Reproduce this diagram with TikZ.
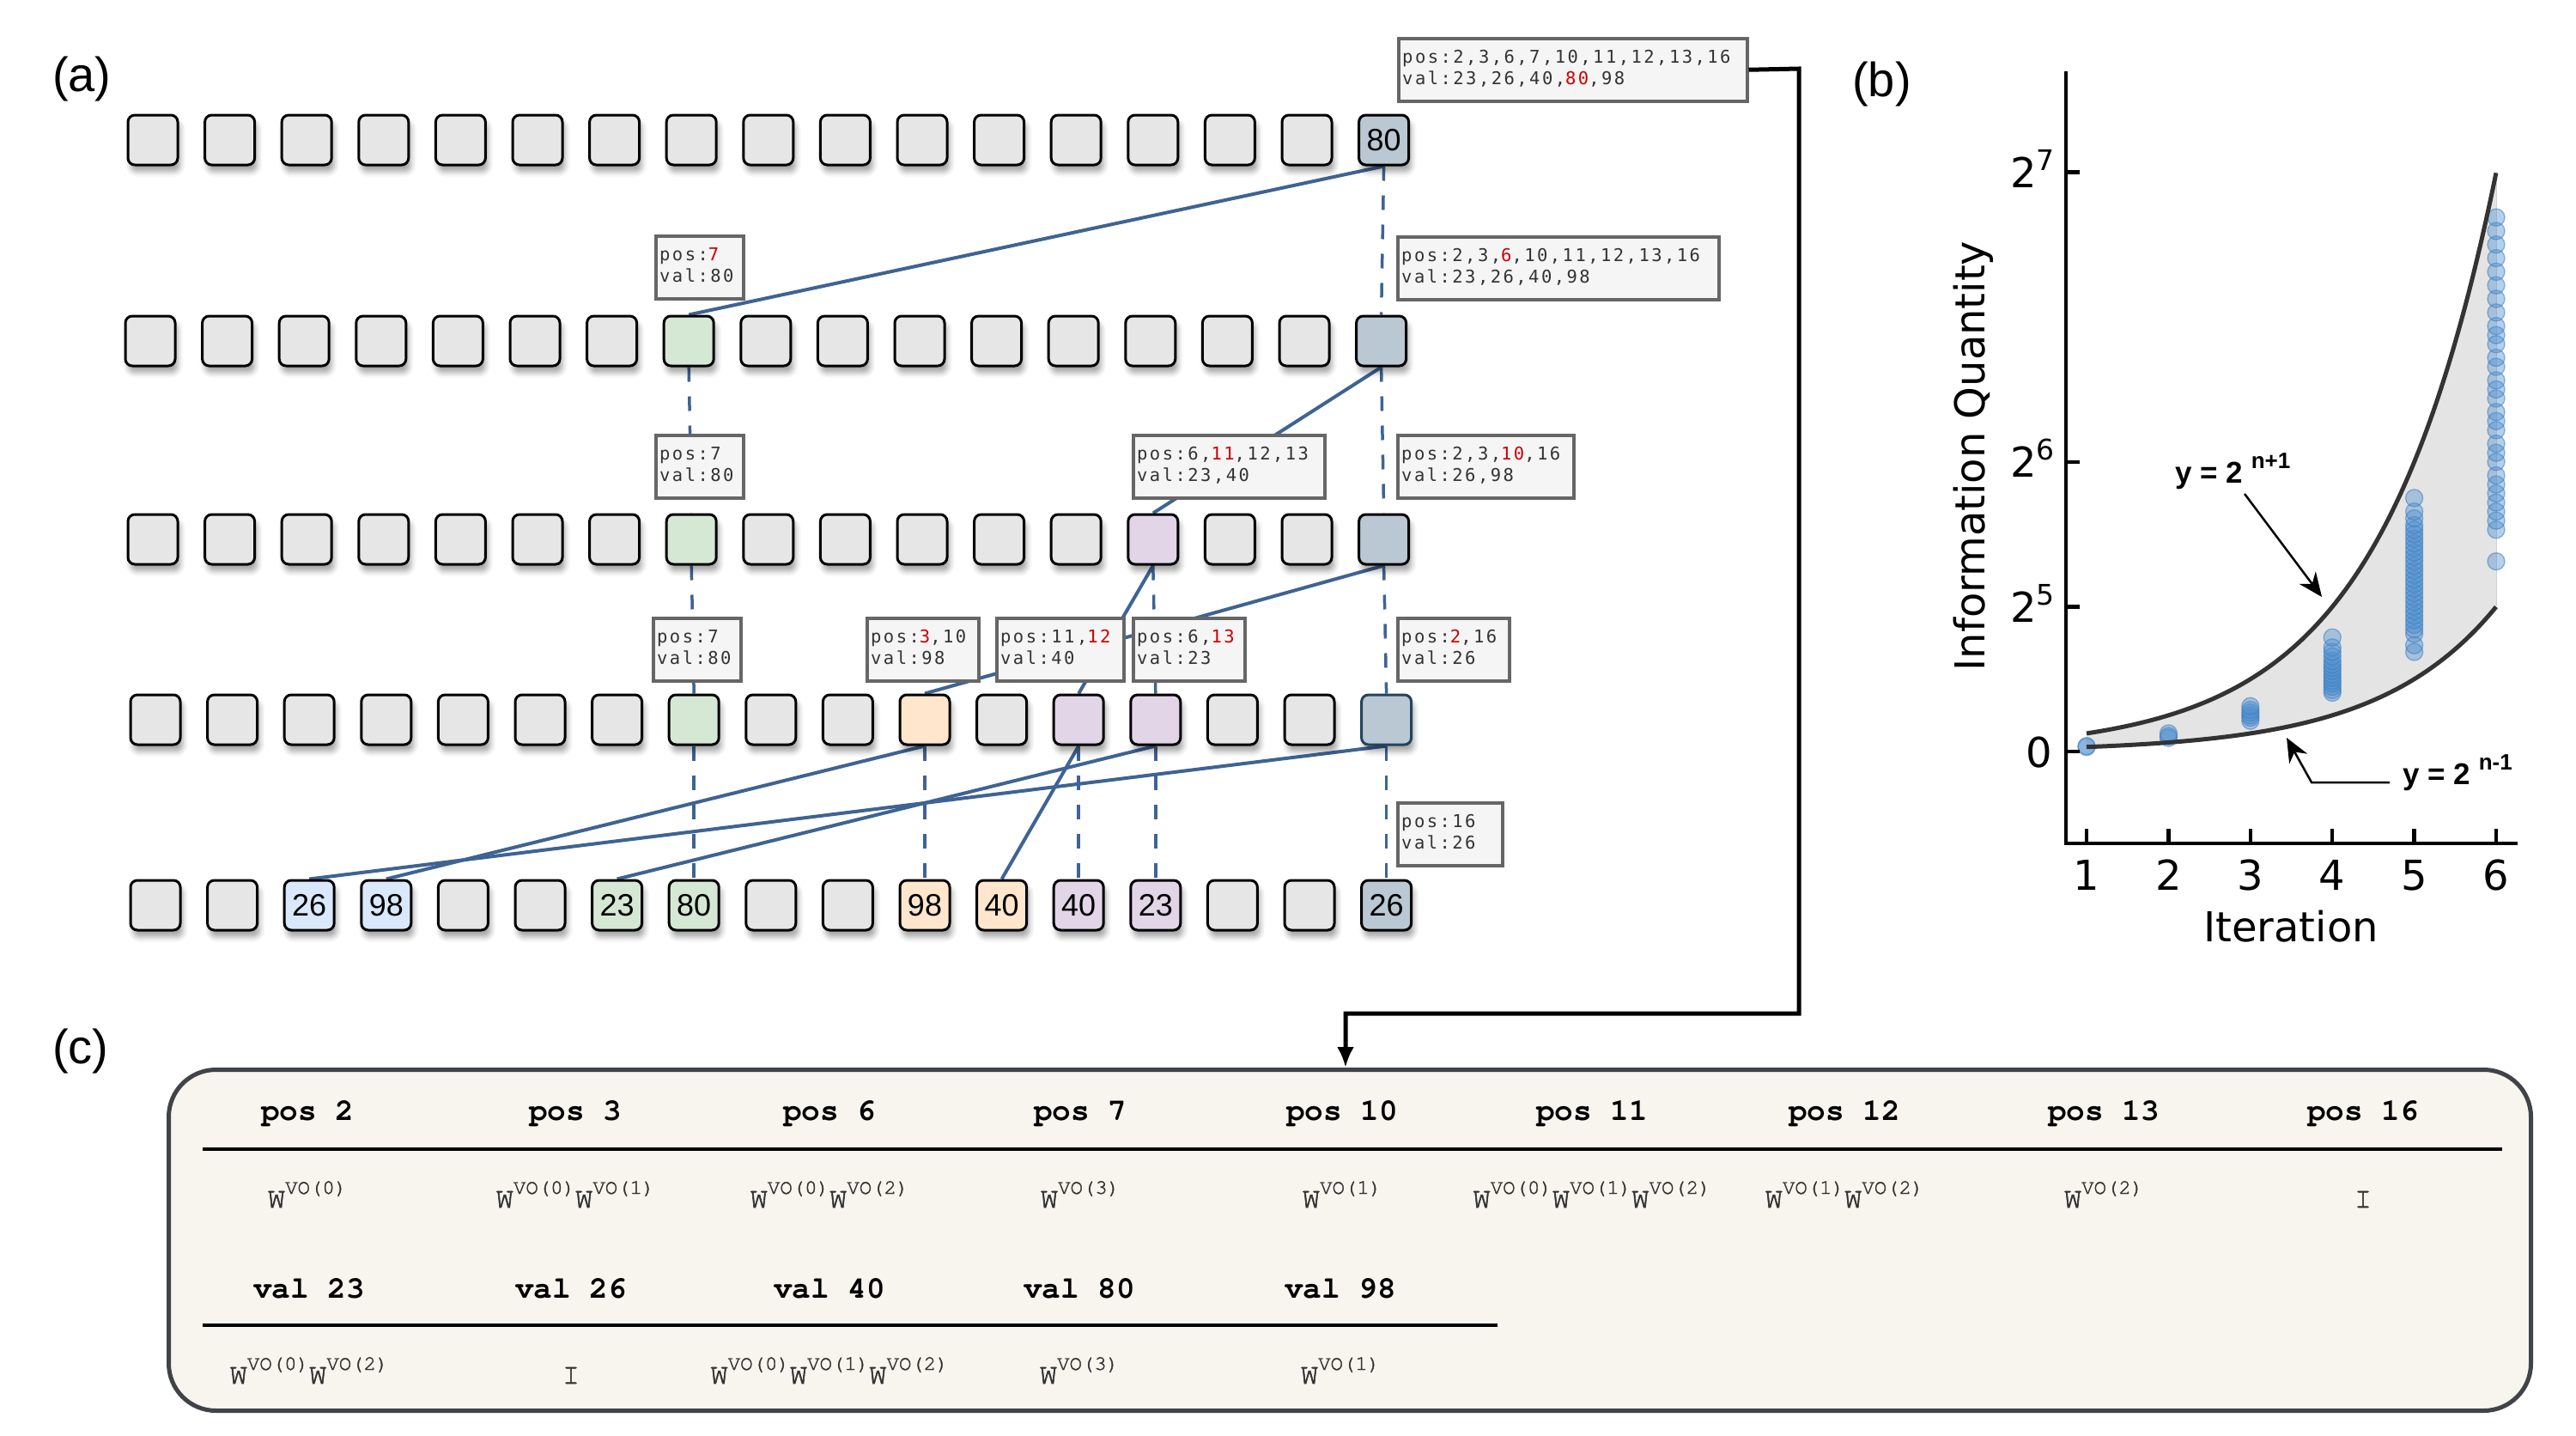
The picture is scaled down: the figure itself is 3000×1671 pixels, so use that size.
\documentclass[tikz,border=0pt]{standalone}
\usepackage{fontspec}
\usetikzlibrary{arrows.meta,shadows.blur}
\newfontfamily\fLS{Liberation Sans}
\newfontfamily\fDJ{DejaVu Sans}
\newfontfamily\fLM{TeX Gyre Cursor}
\newfontfamily\fCF[FakeBold=1.6]{TeX Gyre Cursor}
\newfontfamily\fDM[LetterSpace=12]{DejaVu Sans Mono}
\newcommand\fsz[1]{\fontsize{#1}{#1}\selectfont}
\definecolor{cgray}{HTML}{E6E6E6}
\definecolor{cgreen}{HTML}{D5E8D4}
\definecolor{cbg}{HTML}{BAC8D3}
\definecolor{cpurple}{HTML}{E1D5E7}
\definecolor{corange}{HTML}{FFE6CC}
\definecolor{cblue}{HTML}{DAE8FC}
\definecolor{cnavy}{HTML}{23445D}
\definecolor{cline}{HTML}{3E6394}
\definecolor{clblfill}{HTML}{F5F5F5}
\definecolor{clbldraw}{HTML}{666666}
\definecolor{ctxt}{HTML}{333333}
\definecolor{cred}{HTML}{CC0000}
\definecolor{cpanel}{HTML}{F7F5EE}
\definecolor{cpaneldraw}{HTML}{404347}
\definecolor{cshade}{HTML}{E4E4E4}
\definecolor{ccurve}{HTML}{333333}
\definecolor{cpt}{HTML}{4D8FD0}
\definecolor{cptd}{HTML}{3C7DC0}
\newcommand\rd[1]{\textcolor{cred}{#1}}
\newcommand\Wvo[1]{W\raisebox{16pt}{\fsz{24}VO(#1)}}
\newcommand\setcell[3]{\expandafter\def\csname cf-#1-#2\endcsname{#3}}
\newcommand\settext[3]{\expandafter\def\csname ct-#1-#2\endcsname{#3}}
\setcell{1}{16}{cbg}\settext{1}{16}{80}
\setcell{2}{7}{cgreen}\setcell{2}{16}{cbg}
\setcell{3}{7}{cgreen}\setcell{3}{13}{cpurple}\setcell{3}{16}{cbg}
\setcell{4}{7}{cgreen}\setcell{4}{10}{corange}\setcell{4}{12}{cpurple}\setcell{4}{13}{cpurple}\setcell{4}{16}{cbg}
\setcell{5}{2}{cblue}\settext{5}{2}{26}
\setcell{5}{3}{cblue}\settext{5}{3}{98}
\setcell{5}{6}{cgreen}\settext{5}{6}{23}
\setcell{5}{7}{cgreen}\settext{5}{7}{80}
\setcell{5}{10}{corange}\settext{5}{10}{98}
\setcell{5}{11}{corange}\settext{5}{11}{40}
\setcell{5}{12}{cpurple}\settext{5}{12}{40}
\setcell{5}{13}{cpurple}\settext{5}{13}{23}
\setcell{5}{16}{cbg}\settext{5}{16}{26}
\expandafter\def\csname cd-4-16\endcsname{cnavy}
\pgfdeclarelayer{bg}
\pgfsetlayers{bg,main}
\begin{document}
\begin{tikzpicture}[x=1pt,y=-1pt,
  cell/.style={draw=black, line width=3pt, rounded corners=8pt, minimum width=58pt, minimum height=58pt, inner sep=0pt, font=\fLS\fsz{36},
    blur shadow={shadow xshift=3pt, shadow yshift=-8pt, shadow blur radius=6pt, shadow opacity=35}},
  lblbox/.style={draw=clbldraw, fill=clblfill, line width=3.5pt, minimum height=73pt, inner sep=0pt, anchor=north west},
  lbltxt/.style={font=\fDM\fsz{20.5}, text=ctxt, inner sep=0pt, anchor=base west},
  conn/.style={draw=cline, line width=4pt},
  dconn/.style={draw=cline, line width=3.5pt, dash pattern=on 17pt off 17pt},
  plabel/.style={font=\fLS\fsz{56}, inner sep=0pt, anchor=base west},
  hdr/.style={font=\fLM\bfseries\fsz{36}, inner sep=0pt, anchor=base},
  frm/.style={font=\fCF\fsz{34}, text=ctxt, inner sep=0pt, anchor=base},
  rule/.style={line width=4.5pt, black},
  ticklbl/.style={font=\fDJ\fsz{48}, inner sep=0pt},
  axisline/.style={line width=4.3pt, black},
  curve/.style={draw=ccurve, line width=5pt},
  pt/.style={fill=cpt, fill opacity=0.42, draw=cptd, draw opacity=0.55, line width=1.3pt},
  ann/.style={font=\fLS\bfseries\fsz{35}, inner sep=0pt, anchor=base west},
  annarrow/.style={line width=2.5pt, black, -{Stealth[length=28pt,width=24pt]}}
]
\useasboundingbox (0,0) rectangle (3000,1671);

% ---------------- panel labels
\node[plabel] (pa) at (61,106) {(a)};
\node[plabel] (pb) at (2157,112) {(b)};
\node[plabel] (pc) at (61,1238) {(c)};

% ---------------- cells
\foreach \rr/\yy/\xo in {1/163/178,2/397/175,3/628/178,4/838/181,5/1054/181}{
  \foreach \cc in {0,...,16}{
    \ifcsname cf-\rr-\cc\endcsname
      \edef\cfill{\csname cf-\rr-\cc\endcsname}%
    \else
      \def\cfill{cgray}%
    \fi
    \ifcsname ct-\rr-\cc\endcsname
      \edef\ctext{\csname ct-\rr-\cc\endcsname}%
    \else
      \def\ctext{}%
    \fi
    \ifcsname cd-\rr-\cc\endcsname
      \edef\cdraw{\csname cd-\rr-\cc\endcsname}%
    \else
      \def\cdraw{black}%
    \fi
    \node[cell, fill=\cfill, draw=\cdraw] (r\rr c\cc) at ({\xo+89.6*\cc},\yy) {\ctext};
  }
}

% ---------------- labels
\newcommand\lbl[6]{%
  \node[lblbox, minimum width=#4pt] (#1) at (#2,#3) {};
  \node[lbltxt] (#1a) at ([shift={(6,30)}]#1.north west) {#5};
  \node[lbltxt] (#1b) at ([shift={(6,55)}]#1.north west) {#6};
}
\lbl{L1}{1627}{43}{406}{pos:2,3,6,7,10,11,12,13,16}{val:23,26,40,\rd{80},98}
\lbl{L2}{762}{273}{102}{pos:\rd{7}}{val:80}
\lbl{L3}{1626}{274}{374}{pos:2,3,\rd{6},10,11,12,13,16}{val:23,26,40,98}
\lbl{L4}{762}{505}{102}{pos:7}{val:80}
\lbl{L5}{1318}{505}{223}{pos:6,\rd{11},12,13}{val:23,40}
\lbl{L6}{1626}{505}{205}{pos:2,3,\rd{10},16}{val:26,98}
\lbl{L7}{759}{718}{102}{pos:7}{val:80}
\lbl{L8}{1008}{718}{130}{pos:\rd{3},10}{val:98}
\lbl{L9}{1159}{718}{148}{pos:11,\rd{12}}{val:40}
\lbl{L10}{1318}{718}{130}{pos:6,\rd{13}}{val:23}
\lbl{L11}{1626}{718}{130}{pos:\rd{2},16}{val:26}
\lbl{L12}{1626}{933}{122}{pos:16}{val:26}

% ---------------- connectors (behind)
\begin{pgfonlayer}{bg}
  \draw[conn] (r1c16.south) -- (r2c7.north);
  \draw[conn] (r2c16.south) -- (r3c13.north);
  \draw[conn] (r3c13.south) -- (r4c12.north);
  \draw[conn] (r3c16.south) -- (r4c10.north);
  \draw[conn] (r4c16.south) -- (r5c2.north);
  \draw[conn] (r4c10.south) -- (r5c3.north);
  \draw[conn] (r4c13.south) -- (r5c6.north);
  \draw[conn] (r4c12.south) -- (r5c11.north);
  \draw[dconn] (r1c16.south) -- (r2c16.north);
  \draw[dconn] (r2c16.south) -- (r3c16.north);
  \draw[dconn] (r3c16.south) -- (r4c16.north);
  \draw[dconn] (r4c16.south) -- (r5c16.north);
  \draw[dconn] (r2c7.south) -- (r3c7.north);
  \draw[dconn] (r3c7.south) -- (r4c7.north);
  \draw[dconn] (r4c7.south) -- (r5c7.north);
  \draw[dconn] (r3c13.south) -- (r4c13.north);
  \draw[dconn] (r4c13.south) -- (r5c13.north);
  \draw[dconn] (r4c10.south) -- (r5c10.north);
  \draw[dconn] (r4c12.south) -- (r5c12.north);
\end{pgfonlayer}

% ---------------- panel (c)
\node[draw=cpaneldraw, fill=cpanel, line width=5pt, rounded corners=55pt, minimum width=2751pt, minimum height=397pt, anchor=north west, inner sep=0pt] (C) at (194,1243) {};
\coordinate (k1) at (2095,80);
\coordinate (k2) at (2095,1180);
\coordinate (k3) at (1567,1180);
\draw[line width=5pt, black, -{Latex[length=24pt,width=20pt]}] (L1.east) -- (k1) -- (k2) -- (k3) -- (k3 |- C.north);

\draw[rule] (236,1338) -- (2914,1338);
\draw[rule] (236,1543) -- (1744,1543);

\node[hdr] (hp2) at (358,1304) {pos 2};
\node[hdr] (hp3) at (670,1304) {pos 3};
\node[hdr] (hp6) at (966,1304) {pos 6};
\node[hdr] (hp7) at (1258,1304) {pos 7};
\node[hdr] (hp10) at (1563,1304) {pos 10};
\node[hdr] (hp11) at (1854,1304) {pos 11};
\node[hdr] (hp12) at (2148,1304) {pos 12};
\node[hdr] (hp13) at (2450,1304) {pos 13};
\node[hdr] (hp16) at (2752,1304) {pos 16};

\node[frm] (fp2) at (358,1406) {\Wvo{0}};
\node[frm] (fp3) at (670,1406) {\Wvo{0}\Wvo{1}};
\node[frm] (fp6) at (966,1406) {\Wvo{0}\Wvo{2}};
\node[frm] (fp7) at (1258,1406) {\Wvo{3}};
\node[frm] (fp10) at (1563,1406) {\Wvo{1}};
\node[frm] (fp11) at (1854,1406) {\Wvo{0}\Wvo{1}\Wvo{2}};
\node[frm] (fp12) at (2148,1406) {\Wvo{1}\Wvo{2}};
\node[frm] (fp13) at (2450,1406) {\Wvo{2}};
\node[frm] (fp16) at (2752,1406) {I};

\node[hdr] (hv23) at (360,1511) {val 23};
\node[hdr] (hv26) at (665,1511) {val 26};
\node[hdr] (hv40) at (966,1511) {val 40};
\node[hdr] (hv80) at (1257,1511) {val 80};
\node[hdr] (hv98) at (1561,1511) {val 98};

\node[frm] (fv23) at (360,1611) {\Wvo{0}\Wvo{2}};
\node[frm] (fv26) at (665,1611) {I};
\node[frm] (fv40) at (966,1611) {\Wvo{0}\Wvo{1}\Wvo{2}};
\node[frm] (fv80) at (1257,1611) {\Wvo{3}};
\node[frm] (fv98) at (1561,1611) {\Wvo{1}};

% ---------------- panel (b) plot
\fill[cshade] plot[domain=1:6, samples=80] ({2430+95.4*(\x-1)},{875-5.27*pow(2,\x+1)})
  -- plot[domain=6:1, samples=80] ({2430+95.4*(\x-1)},{875-5.27*pow(2,\x-1)}) -- cycle;
\draw[cshade!80!gray, line width=1pt] (2907,200) -- (2907,706);

\newcommand\pts[2]{\foreach \vv in {#2}{\filldraw[pt] ({2430+95.4*(#1-1)},{875-5.27*\vv}) circle (10pt);}}
\pts{1}{1,1.2}
\pts{2}{3,3.4,4}
\pts{3}{6.8,7.5,8,8.6,9.2,10}
\pts{4}{13,13.6,14.3,15,15.6,16.3,17,17.8,18.5,19.2,20,21,22,23,25.2}
\pts{5}{22,23.5,26,27,28,29,30,31,32,33,34,35,36,37,38,39,40,41,42,43,44,45,46,47,48,49,50,51.5,53,56}
\pts{6}{42,49,51,53,55,57,59,61,64,66,68,71,73,75,78,80,82,85,87,90,92,94,97,100,103,106,109,112,115,118}

\draw[curve] plot[domain=1:6, samples=80, smooth] ({2430+95.4*(\x-1)},{875-5.27*pow(2,\x+1)});
\draw[curve] plot[domain=1:6, samples=80, smooth] ({2430+95.4*(\x-1)},{875-5.27*pow(2,\x-1)});

\draw[axisline] (2406,83) -- (2406,982) -- (2932,982);
\foreach \yv in {875,706.4,537.7,200.4}{\draw[axisline] (2406,\yv) -- (2422,\yv);}
\foreach \n in {1,...,6}{
  \draw[axisline] ({2430+95.4*(\n-1)},982) -- ({2430+95.4*(\n-1)},965);
  \node[ticklbl, anchor=base] (xt\n) at ({2430+95.4*(\n-1)},1036) {\n};
}
\node[ticklbl, anchor=base east] (yt0) at (2390,893) {0};
\node[ticklbl, anchor=base east] (yt5) at (2393,724.4) {2\raisebox{20pt}{\fsz{33}5}};
\node[ticklbl, anchor=base east] (yt6) at (2393,555.7) {2\raisebox{20pt}{\fsz{33}6}};
\node[ticklbl, anchor=base east] (yt7) at (2393,218.4) {2\raisebox{20pt}{\fsz{33}7}};

\node[ticklbl, anchor=base] (xlab) at (2668,1096) {Iteration};
\node[ticklbl, anchor=base, rotate=90] (ylab) at (2311,531) {Information Quantity};

\node[ann] (annU) at (2533,562) {y = 2 \raisebox{17pt}{\fsz{26}n+1}};
\coordinate (ua1) at (2614,575);
\coordinate (ua2) at (2704,695);
\draw[annarrow] (ua1) -- (ua2);

\node[ann] (annL) at (2798,913) {y = 2 \raisebox{17pt}{\fsz{26}n-1}};
\coordinate (la1) at (2783,911);
\coordinate (la2) at (2692,911);
\coordinate (la3) at (2663,859);
\draw[annarrow] (la1) -- (la2) -- (la3);
\end{tikzpicture}
\end{document}
